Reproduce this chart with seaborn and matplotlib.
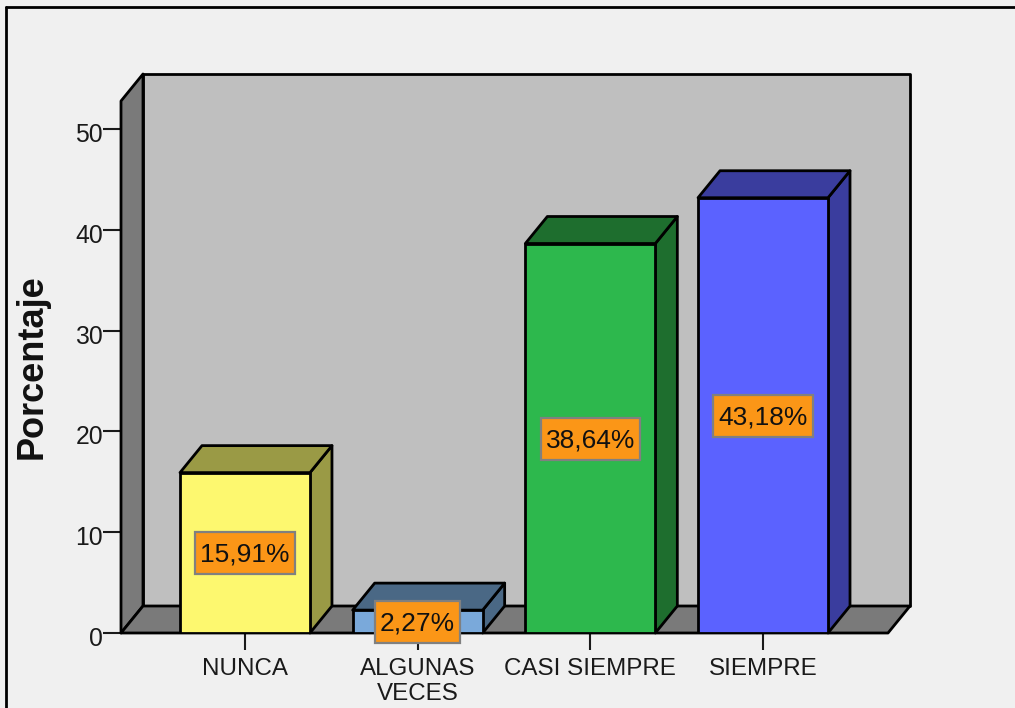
# import libraries
import matplotlib
matplotlib.use("Agg")
import matplotlib.pyplot as plt
from matplotlib.lines import Line2D
from matplotlib.patches import Polygon, Rectangle
from matplotlib.transforms import ScaledTranslation
import seaborn as sns

# chart data
categories = ["NUNCA", "ALGUNAS\nVECES", "CASI SIEMPRE", "SIEMPRE"]
values = [15.91, 2.27, 38.64, 43.18]
labels = ["15,91%", "2,27%", "38,64%", "43,18%"]
yTicks = [0, 10, 20, 30, 40, 50]
yLabel = "Porcentaje"

# colours
frontColors = ["#FDF86F", "#7AA9DA", "#2DB84D", "#5B62FF"]
sideColors = ["#9A9A45", "#4A6885", "#1E6E2E", "#3A3D9E"]
wallColor = "#BFBFBF"
floorColor = "#7A7A7A"
backColor = "#F0F0F0"
boxColor = "#FB9617"
inkColor = "#1A1A1A"

# layout in pixels
figW, figH = 1015, 708
left, right = 121, 888
bottom, top = 633, 101
depthX, depthY = 22, 27
pxPerValue = 10.08
pxPerBar = 172.7
yMax = (bottom - top) / pxPerValue
xMin = -(245 - left) / pxPerBar
xMax = 3 + (right - 763) / pxPerBar
barWidth = 130 / pxPerBar

sns.set_theme(style="white")
plt.rcParams["font.family"] = ["Liberation Sans", "DejaVu Sans"]

fig = plt.figure(figsize=(figW / 100, figH / 100), dpi=100, facecolor=backColor)
ax = fig.add_axes([left / figW, 1 - bottom / figH, (right - left) / figW, (bottom - top) / figH])
ax.set_facecolor("none")

# front faces of the bars
sns.barplot(x=categories, y=values, hue=categories, palette=frontColors, legend=False, saturation=1,
            width=barWidth, edgecolor="black", linewidth=2, ax=ax, zorder=5)
ax.set_xlim(xMin, xMax)
ax.set_ylim(0, yMax)

# depth of the box in data units
dx = depthX / pxPerBar
dy = depthY / pxPerValue


def addFace(points, color, zorder):
    ax.add_patch(Polygon(points, closed=True, facecolor=color, edgecolor="black", linewidth=2,
                         joinstyle="round", clip_on=False, zorder=zorder))


# back wall, left wall and floor
addFace([(xMin + dx, dy), (xMax + dx, dy), (xMax + dx, yMax + dy), (xMin + dx, yMax + dy)], wallColor, 1)
addFace([(xMin, 0), (xMin + dx, dy), (xMin + dx, yMax + dy), (xMin, yMax)], floorColor, 2)
addFace([(xMin, 0), (xMax, 0), (xMax + dx, dy), (xMin + dx, dy)], floorColor, 2)

# side and top of each bar, then its label on an orange box
half = barWidth / 2
renderer = fig.canvas.get_renderer()
for i, value in enumerate(values):
    addFace([(i + half, 0), (i + half + dx, dy), (i + half + dx, value + dy), (i + half, value)], sideColors[i], 4)
    addFace([(i - half, value), (i + half, value), (i + half + dx, value + dy), (i - half + dx, value + dy)], sideColors[i], 4)
    mid = value / 2 - 0.6 / pxPerValue
    t = ax.text(i, mid + 1 / pxPerValue, labels[i], ha="center", va="center_baseline", fontsize=19, color="#111111", zorder=10)
    boxW = (t.get_window_extent(renderer).width + 10) / pxPerBar
    boxH = 42 / pxPerValue
    ax.add_patch(Rectangle((i - boxW / 2, mid - boxH / 2), boxW, boxH, facecolor=boxColor, edgecolor="#808080",
                           linewidth=1.6, clip_on=False, zorder=9))

# axes text and ticks
sns.despine(ax=ax, left=True, bottom=True)
ax.set_yticks(yTicks)
ax.set_xticks(range(len(categories)))
ax.set_xticklabels(categories, linespacing=1.15)
ax.tick_params(axis="y", left=True, length=13, width=1.5, color=inkColor, labelsize=17.8, labelcolor=inkColor, pad=0)
ax.tick_params(axis="x", bottom=True, length=12.5, width=1.5, color=inkColor, labelsize=17.4, labelcolor=inkColor, pad=5.5)
for tickLabel in ax.get_yticklabels():
    tickLabel.set_transform(tickLabel.get_transform() + ScaledTranslation(0, -3.5 / 100, fig.dpi_scale_trans))
ax.set_ylabel(yLabel, fontsize=26, fontweight="bold", color="#111111")
ax.yaxis.set_label_coords(-(left - 50) / (right - left), 0.5)
ax.set_xlabel("")

# picture frame, left and top only
fig.add_artist(Line2D([5.5 / figW, 5.5 / figW], [0, 1 - 7 / figH], color="black", linewidth=2))
fig.add_artist(Line2D([5.5 / figW, 1], [1 - 7 / figH, 1 - 7 / figH], color="black", linewidth=2))

fig.savefig("out.png", dpi=100, facecolor=backColor)
